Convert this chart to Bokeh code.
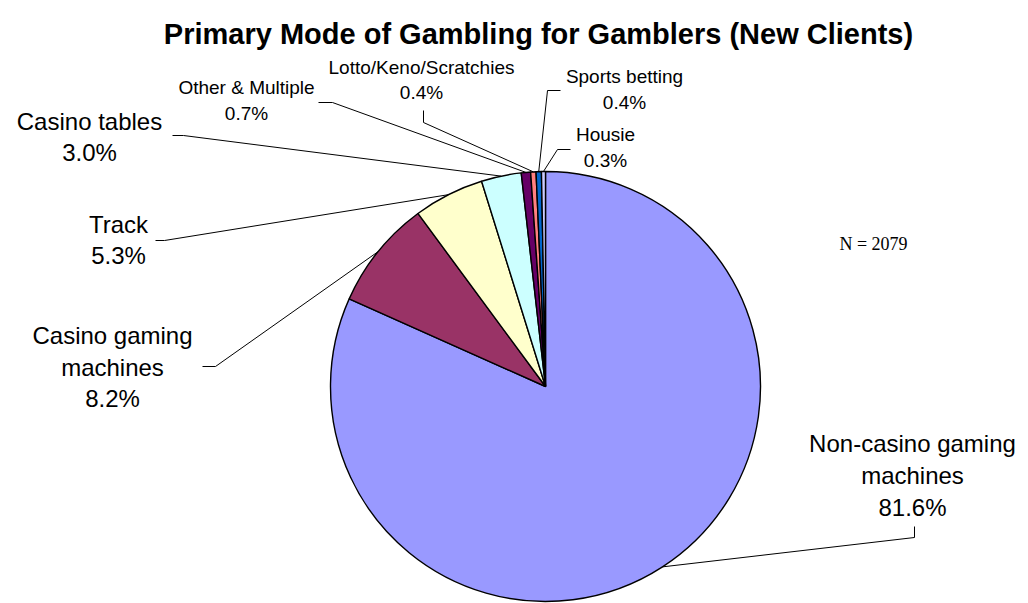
import math

from bokeh.core.properties import value
from bokeh.embed import file_html
from bokeh.models import ColumnDataSource, Range1d
from bokeh.plotting import figure
from bokeh.resources import INLINE

# ---- data -------------------------------------------------------------
categories = [
    "Non-casino gaming machines",
    "Casino gaming machines",
    "Track",
    "Casino tables",
    "Other & Multiple",
    "Lotto/Keno/Scratchies",
    "Sports betting",
    "Housie",
]
label_lines = [
    ["Non-casino gaming", "machines"],
    ["Casino gaming", "machines"],
    ["Track"],
    ["Casino tables"],
    ["Other & Multiple"],
    ["Lotto/Keno/Scratchies"],
    ["Sports betting"],
    ["Housie"],
]
percentages = [81.6, 8.2, 5.3, 3.0, 0.7, 0.4, 0.4, 0.3]
colors = ["#9999FF", "#993366", "#FFFFCC", "#CCFFFF",
          "#660066", "#FF8080", "#0066CC", "#CCCCFF"]
sample_size = 2079
title = "Primary Mode of Gambling for Gamblers (New Clients)"

# ---- layout (pixel coordinates, y measured downward) -------------------
W, H = 1028, 603
CX, CY, R = 545, 386, 215

# label centre x, first line centre y, font size, line spacing,
# leader tail point and elbow point
label_layout = [
    dict(x=912, y=443, size=24, step=32, tail=(914, 526), elbow=(914, 537)),
    dict(x=112, y=335, size=24, step=31.5, tail=(202, 366), elbow=(215, 366)),
    dict(x=118, y=224, size=24, step=31, tail=(155, 240), elbow=(164, 240)),
    dict(x=89, y=121, size=24, step=31, tail=(172, 135), elbow=(183, 135)),
    dict(x=246, y=87, size=19, step=26, tail=(318, 102), elbow=(332, 102)),
    dict(x=421, y=67, size=19, step=25, tail=(423, 110), elbow=(423, 122)),
    dict(x=624, y=76, size=19, step=26, tail=(560, 90), elbow=(547, 90)),
    dict(x=605, y=134, size=19, step=26, tail=(570, 149), elbow=(557, 149)),
]


def fy(y):
    """Flip a downward pixel y into the upward data axis."""
    return H - y


p = figure(
    width=W, height=H,
    x_range=Range1d(0, W), y_range=Range1d(0, H),
    output_backend="svg", toolbar_location=None,
    x_axis_location=None, y_axis_location=None,
    min_border=0,
)
p.grid.visible = False
p.outline_line_color = None
p.background_fill_color = "white"
p.border_fill_color = "white"

# ---- wedges: first slice starts at 12 o'clock, going clockwise ---------
total = sum(percentages)
starts, ends, mids = [], [], []
acc = 0.0
for v in percentages:
    f0 = acc / total
    acc += v
    f1 = acc / total
    starts.append(math.pi / 2 - 2 * math.pi * f0)
    ends.append(math.pi / 2 - 2 * math.pi * f1)
    mids.append(math.pi / 2 - 2 * math.pi * (f0 + f1) / 2)

wedges = ColumnDataSource(dict(
    start=starts, end=ends, color=colors, name=categories,
))
p.wedge(x=CX, y=fy(CY), radius=R, start_angle="start", end_angle="end",
        direction="clock", fill_color="color", line_color="black",
        line_width=1.4, source=wedges)

# ---- leader lines ------------------------------------------------------
xs, ys = [], []
for lay, a in zip(label_layout, mids):
    ex = CX + R * math.cos(a)
    ey = CY - R * math.sin(a)
    xs.append([lay["tail"][0], lay["elbow"][0], ex])
    ys.append([fy(lay["tail"][1]), fy(lay["elbow"][1]), fy(ey)])
p.multi_line(xs=xs, ys=ys, line_color="black", line_width=1)

# ---- data labels -------------------------------------------------------
tx, ty, tt, ts = [], [], [], []
for lines, v, lay in zip(label_lines, percentages, label_layout):
    for i, s in enumerate(lines + [f"{v:.1f}%"]):
        tx.append(lay["x"])
        ty.append(fy(lay["y"] + i * lay["step"]))
        tt.append(s)
        ts.append(f"{lay['size']}px")
labels = ColumnDataSource(dict(x=tx, y=ty, text=tt, size=ts))
p.text(x="x", y="y", text="text", source=labels,
       text_font=value("Liberation Sans"), text_font_size="size",
       text_color="black", text_align="center", text_baseline="middle")

# ---- sample size note and title ---------------------------------------
p.text(x=[873], y=[fy(243)], text=[f"N = {sample_size}"],
       text_font=value("Liberation Serif"), text_font_size="18px",
       text_color="black", text_align="center", text_baseline="middle")

p.text(x=[538], y=[fy(33)], text=[title],
       text_font=value("Liberation Sans"), text_font_size="29px",
       text_font_style="bold", text_color="black",
       text_align="center", text_baseline="middle")

open("out.html", "w").write(file_html(p, INLINE))
